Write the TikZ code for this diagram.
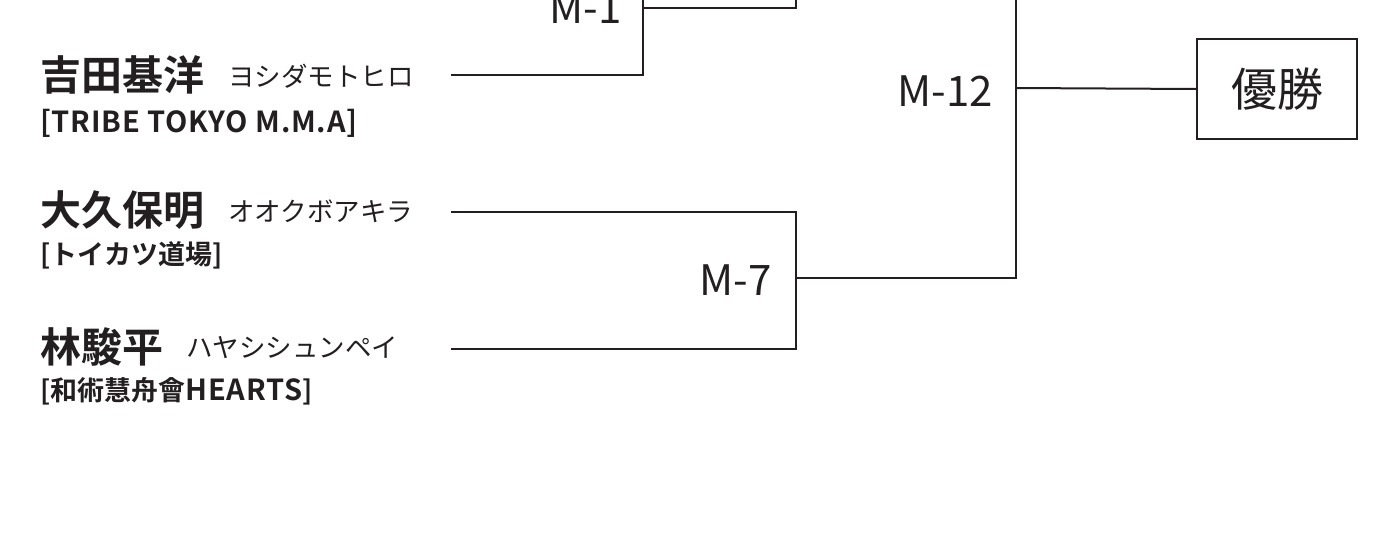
\documentclass[tikz,border=0pt]{standalone}
\usepackage{fontspec}
\setmainfont{Noto Sans CJK JP}
\newfontfamily\jpbold{Noto Sans CJK JP Bold}
\newfontfamily\jpmed[LetterSpace=2.8]{Noto Sans CJK JP Bold}
\newcommand{\latinpart}[1]{{\jpmed\fontsize{29}{32}\selectfont #1}}
\definecolor{ink}{HTML}{231F20}
\begin{document}
\begin{tikzpicture}[x=1pt,y=-1pt,
  wire/.style={draw=ink,line width=2pt},
  jpname/.style={anchor=west,inner sep=0pt,text=ink,font=\jpbold\fontsize{41}{44}\selectfont},
  kana/.style={anchor=west,inner sep=0pt,text=ink,font=\fontsize{26.5}{28}\selectfont},
  club/.style={anchor=west,inner sep=0pt,text=ink,font=\jpbold\fontsize{27}{30}\selectfont},
  matchlbl/.style={anchor=east,inner sep=0pt,text=ink,font=\fontsize{42}{46}\selectfont},
  winbox/.style={draw=ink,line width=2pt,minimum width=160pt,minimum height=100pt,inner sep=0pt,text=ink,font=\fontsize{46}{50}\selectfont}]
\useasboundingbox (0,0) rectangle (1373,541);
% names
\node[jpname] (n1) at (40,75) {吉田基洋};
\node[kana] (k1) at (228,76) {ヨシダモトヒロ};
\node[club] (c1) at (40,123) {\latinpart{[TRIBE TOKYO M.M.A]}};
\node[jpname] (n2) at (40,210) {大久保明};
\node[kana] (k2) at (228,211) {オオクボアキラ};
\node[club] (c2) at (40,255) {[トイカツ道場]};
\node[jpname] (n3) at (40,347) {林駿平};
\node[kana] (k3) at (186,348) {ハヤシシュンペイ};
\node[club] (c3) at (40,391) {[和術慧舟會\latinpart{HEARTS}]};
% match labels
\node[matchlbl] (m1) at (622,8) {M-1};
\node[matchlbl] (m12) at (993,91) {M-12};
\node[matchlbl] (m7) at (772,280) {M-7};
\node[winbox] (win) at (1277,89) {優勝};
% coordinates
\coordinate (a1) at (451,75);
\coordinate (a1c) at (643,75);
\coordinate (a1t) at (643,-5);
\coordinate (b1) at (643,8);
\coordinate (b1e) at (796,8);
\coordinate (b1t) at (796,-5);
\coordinate (a2) at (451,212);
\coordinate (a2c) at (796,212);
\coordinate (a3) at (451,349);
\coordinate (a3c) at (796,349);
\coordinate (m7o) at (796,278);
\coordinate (m7c) at (1016,278);
\coordinate (m12t) at (1016,-5);
\coordinate (m12o) at (1016,88);
% connectors
\draw[wire] (a1) -- (a1c) -- (a1t);
\draw[wire] (b1) -- (b1e) -- (b1t);
\draw[wire] (a2) -- (a2c) -- (a3c) -- (a3);
\draw[wire] (m7o) -- (m7c) -- (m12t);
\draw[wire] (m12o) -- (win.west);
\end{tikzpicture}
\end{document}
